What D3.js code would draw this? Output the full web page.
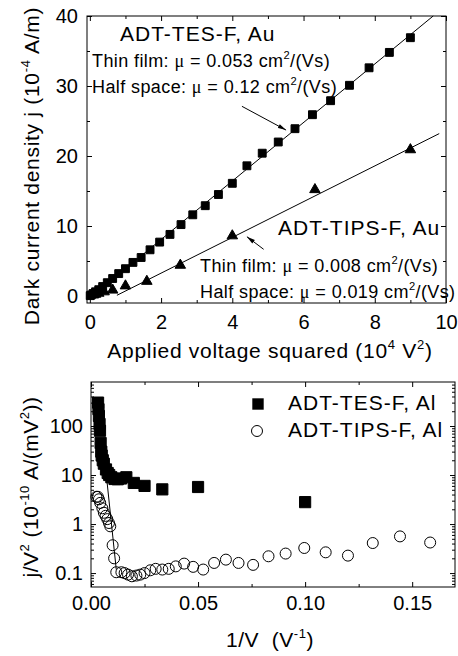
<!DOCTYPE html>
<html>
<head>
<meta charset="utf-8">
<script src="https://cdn.jsdelivr.net/npm/d3@7"></script>
<style>
body { margin: 0; background: #fff; }
text { font-family: "Liberation Sans", Arial, sans-serif; fill: #000; }
</style>
</head>
<body>
<svg id="fig" width="458" height="656"></svg>
<script>
//////////////////////////////////////////////////////////////////////////////
// Data

// top panel: dark current density vs applied voltage squared (Au contacts)
var tesAuV2 = [0.01, 0.04, 0.09, 0.16, 0.25, 0.36, 0.49, 0.64, 0.81, 1.0,
               1.21, 1.44, 1.69, 1.96, 2.25, 2.56, 2.89, 3.24, 3.61, 4.0,
               4.41, 4.84, 5.29, 5.76, 6.25, 6.76, 7.29, 7.84, 8.41, 9.0];
var tesAuJ  = [0.05, 0.15, 0.35, 0.6, 0.9, 1.35, 1.9, 2.5, 3.2, 3.9,
               4.8, 5.5, 6.6, 7.7, 8.8, 10.2, 11.6, 12.9, 14.5, 16.1,
               18.6, 20.4, 22.0, 23.9, 25.9, 27.9, 30.1, 32.6, 34.8, 36.9];
var tipsAuV2 = [0.1, 0.16, 0.25, 0.4, 0.64, 1.0, 1.6, 2.54, 4.0, 6.32, 9.0];
var tipsAuJ  = [0.15, 0.25, 0.4, 0.6, 0.85, 1.45, 2.1, 4.4, 8.6, 15.2, 20.9];
var tesAuFit  = [[0.07, 0], [9.64, 40]];
var tipsAuFit = [[0.76, 0.1], [9.81, 23.2]];

// bottom panel: j/V^2 vs 1/V (Al contacts)
var tesAlInvV = [0.0033, 0.0035, 0.0037, 0.004, 0.0042, 0.0045, 0.0048, 0.005,
                 0.0055, 0.006, 0.007, 0.0078, 0.0085, 0.0095, 0.011, 0.0125,
                 0.014, 0.0165, 0.02, 0.025, 0.0333, 0.05, 0.1];
var tesAlJV2  = [300, 220, 160, 110, 80, 45, 30, 25,
                 20, 17, 13, 11, 10, 9, 8.3, 8.2,
                 8.5, 9.0, 6.9, 6.0, 5.1, 5.7, 2.8];
var tipsAlInvV = [0.0025, 0.0032, 0.0037, 0.0043, 0.0053, 0.006, 0.0068, 0.0076,
                  0.0084, 0.009, 0.0101, 0.0108, 0.0118, 0.0142, 0.0157, 0.0173,
                  0.0191, 0.0212, 0.023, 0.025, 0.0277, 0.0302, 0.0333, 0.0363,
                  0.0396, 0.0435, 0.0477, 0.0524, 0.0575, 0.063, 0.0689, 0.0757,
                  0.0829, 0.0909, 0.0996, 0.1096, 0.12, 0.1316, 0.1443, 0.1584];
var tipsAlJV2  = [3.6, 3.6, 3.2, 2.7, 2.1, 1.7, 1.47, 1.26,
                  1.05, 0.9, 0.37, 0.2, 0.104, 0.104, 0.1, 0.093,
                  0.086, 0.089, 0.093, 0.1, 0.114, 0.122, 0.118, 0.122,
                  0.137, 0.156, 0.134, 0.118, 0.161, 0.188, 0.161, 0.147,
                  0.22, 0.25, 0.325, 0.265, 0.227, 0.41, 0.56, 0.42];
var tipsAlFit = [[0.0074, 7.9], [0.0118, 0.118]];

// ticks
var topXTicks = [0, 2, 4, 6, 8, 10], topXMinor = [1, 3, 5, 7, 9];
var topYTicks = [0, 10, 20, 30, 40], topYMinor = [5, 15, 25, 35];
var botXTicks = [0, 0.05, 0.10, 0.15], botXMinor = [0.025, 0.075, 0.125];
var botYTicks = [0.1, 1, 10, 100];
var botYMinor = [0.06, 0.07, 0.08, 0.09, 0.2, 0.3, 0.4, 0.5, 0.6, 0.7, 0.8, 0.9,
                 2, 3, 4, 5, 6, 7, 8, 9, 20, 30, 40, 50, 60, 70, 80, 90,
                 200, 300, 400, 500, 600, 700];

//////////////////////////////////////////////////////////////////////////////
// Helpers

var svg = d3.select("#fig");

svg.append("defs").append("marker")
    .attr("id", "arrow")
    .attr("viewBox", "0 0 10 6")
    .attr("refX", 10).attr("refY", 3)
    .attr("markerWidth", 9).attr("markerHeight", 5)
    .attr("markerUnits", "userSpaceOnUse")
    .attr("orient", "auto")
    .append("path").attr("d", "M0,0.4 L10,3 L0,5.6 Z").attr("fill", "#000");

// parts: [text, kind] where kind is undefined, "sup" or "mu"
function rich(sel, parts, size)
{
    var shift = size * 0.42;
    var up = false;
    parts.forEach(function(p) {
        var t = sel.append("tspan").text(p[0]);
        if (p[1] === "sup") {
            t.attr("font-size", size * 0.62).attr("dy", up ? 0 : -shift);
            up = true;
        } else {
            t.attr("dy", up ? shift : 0);
            up = false;
            if (p[1] === "mu") t.attr("font-family", "'Liberation Serif', serif");
        }
    });
    return sel;
}

function styleAxis(g, size)
{
    g.select(".domain").remove();
    g.selectAll(".tick line").attr("stroke", "#000").attr("stroke-width", 1);
    g.attr("font-family", "'Liberation Sans', Arial, sans-serif").attr("font-size", size);
}

function drawAxes(x, y, o)
{
    var r = x.range(), b = y.range();
    var left = r[0], right = r[1], bottom = b[0], top = b[1];

    svg.append("g").attr("transform", "translate(0," + bottom + ")")
        .call(d3.axisBottom(x).tickValues(o.xTicks).tickFormat(o.xFmt)
              .tickSizeInner(-5).tickSizeOuter(0).tickPadding(o.xPad))
        .call(styleAxis, 20);
    svg.append("g").attr("transform", "translate(0," + bottom + ")")
        .call(d3.axisBottom(x).tickValues(o.xMinor).tickFormat("").tickSizeInner(-3).tickSizeOuter(0))
        .call(styleAxis, 20);
    svg.append("g").attr("transform", "translate(0," + top + ")")
        .call(d3.axisTop(x).tickValues(o.xTicks).tickFormat("").tickSizeInner(-5).tickSizeOuter(0))
        .call(styleAxis, 20);
    svg.append("g").attr("transform", "translate(0," + top + ")")
        .call(d3.axisTop(x).tickValues(o.xMinor).tickFormat("").tickSizeInner(-3).tickSizeOuter(0))
        .call(styleAxis, 20);

    svg.append("g").attr("transform", "translate(" + left + ",0)")
        .call(d3.axisLeft(y).tickValues(o.yTicks).tickFormat(o.yFmt)
              .tickSizeInner(-5).tickSizeOuter(0).tickPadding(o.yPad))
        .call(styleAxis, 20);
    svg.append("g").attr("transform", "translate(" + left + ",0)")
        .call(d3.axisLeft(y).tickValues(o.yMinor).tickFormat("").tickSizeInner(-3).tickSizeOuter(0))
        .call(styleAxis, 20);
    svg.append("g").attr("transform", "translate(" + right + ",0)")
        .call(d3.axisRight(y).tickValues(o.yTicks).tickFormat("").tickSizeInner(-5).tickSizeOuter(0))
        .call(styleAxis, 20);
    svg.append("g").attr("transform", "translate(" + right + ",0)")
        .call(d3.axisRight(y).tickValues(o.yMinor).tickFormat("").tickSizeInner(-3).tickSizeOuter(0))
        .call(styleAxis, 20);

    svg.append("rect")
        .attr("x", left).attr("y", top)
        .attr("width", right - left).attr("height", bottom - top)
        .attr("fill", "none").attr("stroke", "#000").attr("stroke-width", 1);
}

function fitLine(x, y, pts)
{
    svg.append("path")
        .attr("d", d3.line().x(function(d) { return x(d[0]); }).y(function(d) { return y(d[1]); })(pts))
        .attr("fill", "none").attr("stroke", "#000").attr("stroke-width", 1);
}

function symbols(x, y, xs, ys, type, area, fill)
{
    svg.append("g").selectAll("path")
        .data(xs)
        .enter()
        .append("path")
        .attr("transform", function(d, i) { return "translate(" + x(d) + "," + y(ys[i]) + ")"; })
        .attr("d", d3.symbol().type(type).size(area))
        .attr("fill", fill)
        .attr("stroke", "#000")
        .attr("stroke-width", 1);
}

//////////////////////////////////////////////////////////////////////////////
// Top panel

var x1 = d3.scaleLinear().domain([-0.08, 10]).range([87, 446]);
var y1 = d3.scaleLinear().domain([-1, 40]).range([303, 16]);

drawAxes(x1, y1, {
    xTicks: topXTicks, xMinor: topXMinor, xFmt: d3.format("d"), xPad: 12,
    yTicks: topYTicks, yMinor: topYMinor, yFmt: d3.format("d"), yPad: 9
});

fitLine(x1, y1, tesAuFit);
fitLine(x1, y1, tipsAuFit);
symbols(x1, y1, tesAuV2, tesAuJ, d3.symbolSquare, 62, "#000");
symbols(x1, y1, tipsAuV2, tipsAuJ, d3.symbolTriangle, 48, "#000");

// annotation arrows
svg.append("line")
    .attr("x1", x1(4.27)).attr("y1", y1(27.1)).attr("x2", x1(5.51)).attr("y2", y1(23.7))
    .attr("stroke", "#000").attr("stroke-width", 1).attr("marker-end", "url(#arrow)");
svg.append("line")
    .attr("x1", x1(4.88)).attr("y1", y1(6.67)).attr("x2", x1(4.41)).attr("y2", y1(8.47))
    .attr("stroke", "#000").attr("stroke-width", 1).attr("marker-end", "url(#arrow)");

svg.append("text").attr("x", 120).attr("y", 41).attr("font-size", 21).attr("letter-spacing", 1)
    .text("ADT-TES-F, Au");
rich(svg.append("text").attr("x", 92).attr("y", 67).attr("font-size", 18).attr("letter-spacing", 0.4),
     [["Thin film: "], ["\u03bc", "mu"], [" = 0.053 cm"], ["2", "sup"], ["/(Vs)"]], 18);
rich(svg.append("text").attr("x", 92).attr("y", 93).attr("font-size", 18).attr("letter-spacing", 0.4),
     [["Half space: "], ["\u03bc", "mu"], [" = 0.12 cm"], ["2", "sup"], ["/(Vs)"]], 18);

svg.append("text").attr("x", 278).attr("y", 235).attr("font-size", 21).attr("letter-spacing", 1)
    .text("ADT-TIPS-F, Au");
rich(svg.append("text").attr("x", 200).attr("y", 272).attr("font-size", 18).attr("letter-spacing", 0.4),
     [["Thin film: "], ["\u03bc", "mu"], [" = 0.008 cm"], ["2", "sup"], ["/(Vs)"]], 18);
rich(svg.append("text").attr("x", 200).attr("y", 298).attr("font-size", 18).attr("letter-spacing", 0.4),
     [["Half space: "], ["\u03bc", "mu"], [" = 0.019 cm"], ["2", "sup"], ["/(Vs)"]], 18);

rich(svg.append("text").attr("x", 270).attr("y", 358).attr("font-size", 21)
        .attr("text-anchor", "middle").attr("letter-spacing", 0.7),
     [["Applied voltage squared (10"], ["4", "sup"], [" V"], ["2", "sup"], [")"]], 21);
rich(svg.append("text").attr("transform", "translate(39,166) rotate(-90)")
        .attr("font-size", 21).attr("text-anchor", "middle").attr("letter-spacing", 0.7),
     [["Dark current density j (10"], ["-4", "sup"], [" A/m)"]], 21);

//////////////////////////////////////////////////////////////////////////////
// Bottom panel

var x2 = d3.scaleLinear().domain([0, 0.17]).range([91, 455]);
var y2 = d3.scaleLog().domain([0.052, 790]).range([587, 382]);

drawAxes(x2, y2, {
    xTicks: botXTicks, xMinor: botXMinor, xFmt: d3.format(".2f"), xPad: 9,
    yTicks: botYTicks, yMinor: botYMinor, yFmt: function(d) { return d < 1 ? "0.1" : d3.format("d")(d); }, yPad: 8
});

fitLine(x2, y2, tipsAlFit);
symbols(x2, y2, tipsAlInvV, tipsAlJV2, d3.symbolCircle, 95, "none");
symbols(x2, y2, tesAlInvV, tesAlJV2, d3.symbolSquare, 125, "#000");

// legend
svg.append("path").attr("transform", "translate(258,404)")
    .attr("d", d3.symbol().type(d3.symbolSquare).size(130)).attr("fill", "#000");
svg.append("path").attr("transform", "translate(257,431)")
    .attr("d", d3.symbol().type(d3.symbolCircle).size(95))
    .attr("fill", "none").attr("stroke", "#000");
svg.append("text").attr("x", 288).attr("y", 410).attr("font-size", 21).attr("letter-spacing", 1)
    .text("ADT-TES-F, Al");
svg.append("text").attr("x", 288).attr("y", 437).attr("font-size", 21).attr("letter-spacing", 1)
    .text("ADT-TIPS-F, Al");

rich(svg.append("text").attr("x", 270).attr("y", 647).attr("font-size", 21)
        .attr("text-anchor", "middle").attr("letter-spacing", 0.5),
     [["1/V \u00a0(V"], ["-1", "sup"], [")"]], 21);
rich(svg.append("text").attr("transform", "translate(38,487) rotate(-90)")
        .attr("font-size", 21).attr("text-anchor", "middle").attr("letter-spacing", 0.5),
     [["j/V"], ["2", "sup"], [" (10"], ["-10", "sup"], [" A/(mV"], ["2", "sup"], ["))"]], 21);
</script>
</body>
</html>
